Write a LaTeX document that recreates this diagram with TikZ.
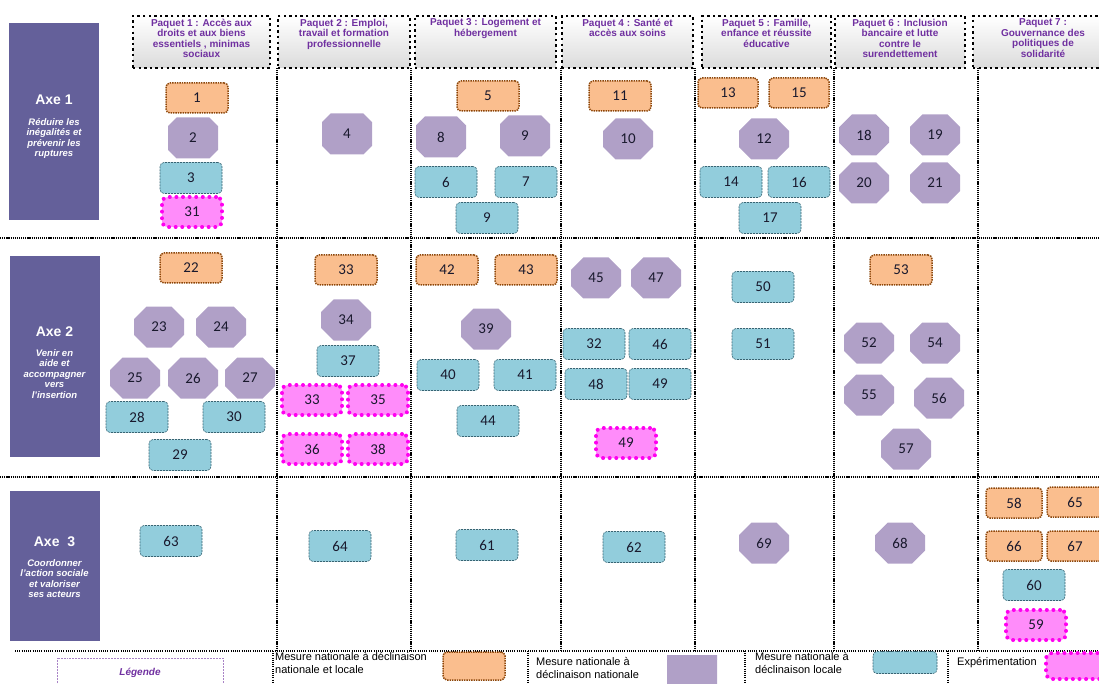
\documentclass[tikz,border=0pt]{standalone}
\usepackage{fontspec}
\setmainfont{Liberation Sans}
\newfontfamily\numfont{Carlito}
\usetikzlibrary{shapes.misc}

\definecolor{axeviolet}{RGB}{100,96,154}
\definecolor{titreviolet}{RGB}{112,48,160}
\definecolor{orangefond}{RGB}{250,190,142}
\definecolor{orangebord}{RGB}{140,70,10}
\definecolor{bleufond}{RGB}{146,205,220}
\definecolor{bleubord}{RGB}{55,100,115}
\definecolor{octfond}{RGB}{176,160,199}
\definecolor{rosefond}{RGB}{255,140,250}
\definecolor{rosebord}{RGB}{255,0,240}
\definecolor{chiffre}{RGB}{25,25,45}

\begin{document}
\begin{tikzpicture}[x=1pt,y=-1pt,font=\numfont\fontsize{15}{17}\selectfont]
  \tikzset{
    natl/.style={draw=orangebord,fill=orangefond,line width=1.5pt,dash pattern=on 1.4pt off 1pt,rounded corners=4pt,minimum width=62pt,minimum height=30pt,inner sep=0pt,text=chiffre},
    loc/.style={draw=bleubord,fill=bleufond,line width=0.6pt,dash pattern=on 2pt off 1pt,rounded corners=4pt,minimum width=62pt,minimum height=31pt,inner sep=0pt,text=chiffre},
    oct/.style={chamfered rectangle,chamfered rectangle xsep=16pt,chamfered rectangle ysep=16pt,fill=octfond,minimum width=50pt,minimum height=41pt,inner sep=0pt,text=chiffre},
    expe/.style={draw=rosebord,fill=rosefond,line width=4pt,dash pattern=on 0pt off 6.6pt,line cap=round,rounded corners=6pt,minimum width=60pt,minimum height=30pt,inner sep=0pt,text=chiffre},
    paquet/.style={draw=black,line width=2.4pt,dash pattern=on 2.4pt off 3.2pt,top color=white,bottom color=black!14,inner sep=0pt,font=\fontsize{10}{10.4}\selectfont\bfseries\color{titreviolet}},
    axe/.style={fill=axeviolet,inner sep=0pt,minimum width=90pt},
    axetitre/.style={inner sep=0pt,text=white,font=\fontsize{14}{16}\selectfont\bfseries},
    axesous/.style={anchor=north,inner sep=0pt,text=white,align=flush center,font=\fontsize{9.5}{10.5}\selectfont\bfseries\itshape},
    sep/.style={line width=1.6pt,dash pattern=on 1.2pt off 0.9pt},
    lsep/.style={line width=1.1pt,dash pattern=on 1pt off 1.2pt},
    leg/.style={anchor=north west,inner sep=0pt,align=left,font=\fontsize{11}{13}\selectfont}
  }
  \useasboundingbox (0,0) rectangle (1099,684);

  % Axes
  \node[axe,minimum height=197pt] (axe1) at (54,121.5) {};
  \node[axetitre] (axe1t) at (54,100) {Axe 1};
  \node[axesous] (axe1s) at (54,118) {Réduire les\\inégalités et\\prévenir les\\ruptures};
  \node[axe,minimum height=201pt] (axe2) at (54.5,356.5) {};
  \node[axetitre] (axe2t) at (54.5,332) {Axe 2};
  \node[axesous] (axe2s) at (54.5,349) {Venir en\\aide et\\accompagner\\vers\\l'insertion};
  \node[axe,minimum height=150pt] (axe3) at (54.5,566) {};
  \node[axetitre] (axe3t) at (54.5,542) {Axe\ \ 3};
  \node[axesous] (axe3s) at (54.5,559) {Coordonner\\l'action sociale\\et valoriser\\ses acteurs};

  % Paquets (en-tetes)
  \node[paquet,minimum width=137pt,minimum height=52pt] (p1) at (201.5,42)
    {\parbox[c][46pt][t]{134pt}{\centering Paquet 1 : Accès aux\\droits et aux biens\\essentiels , minimas\\sociaux}};
  \node[paquet,minimum width=132pt,minimum height=52pt] (p2) at (344,42)
    {\parbox[c][46pt][t]{129pt}{\centering Paquet 2 : Emploi,\\travail et formation\\professionnelle}};
  \node[paquet,minimum width=141pt,minimum height=52pt] (p3) at (485.5,42)
    {\parbox[c][46pt][t]{138pt}{\centering Paquet 3 : Logement et\\hébergement}};
  \node[paquet,minimum width=131pt,minimum height=52pt] (p4) at (627.5,42)
    {\parbox[c][46pt][t]{128pt}{\centering Paquet 4 : Santé et\\accès aux soins}};
  \node[paquet,minimum width=129pt,minimum height=52pt] (p5) at (766.5,42)
    {\parbox[c][46pt][t]{126pt}{\centering Paquet 5 : Famille,\\enfance et réussite\\éducative}};
  \node[paquet,minimum width=130pt,minimum height=52pt] (p6) at (900,42)
    {\parbox[c][46pt][t]{127pt}{\centering Paquet 6 : Inclusion\\bancaire et lutte\\contre le\\surendettement}};
  \node[paquet,minimum width=140pt,minimum height=52pt] (p7) at (1043,42)
    {\parbox[c][46pt][t]{137pt}{\centering Paquet 7 :\\Gouvernance des\\politiques de\\solidarité}};

  % Separateurs
  \foreach \xs in {277,411,561,695,834,978}
    \draw[sep] (\xs,68) -- (\xs,650);
  \draw[sep] (0,238) -- (1099,238);
  \draw[sep] (0,477) -- (1099,477);
  \draw[lsep] (15,651) -- (1099,651);
  \foreach \xs in {273,528,745,948}
    \draw[lsep] (\xs,651) -- (\xs,684);

  % Axe 1
  \node[natl] (n1) at (197,98) {1};
  \node[oct] (n2) at (193,138) {2};
  \node[loc] (n3) at (191,178) {3};
  \node[expe] (n31) at (192,212) {31};
  \node[oct] (n4) at (347,134) {4};
  \node[natl] (n5) at (488,96) {5};
  \node[oct] (n8) at (441,137) {8};
  \node[oct] (n9) at (525,136) {9};
  \node[loc] (n6) at (446,182) {6};
  \node[loc] (n7) at (526,182) {7};
  \node[loc] (n9b) at (487,218) {9};
  \node[natl] (n11) at (620,96) {11};
  \node[oct] (n10) at (628,139) {10};
  \node[natl,minimum width=60pt] (n13) at (728,93) {13};
  \node[natl,minimum width=60pt] (n15) at (799,93) {15};
  \node[oct] (n12) at (764,139) {12};
  \node[loc] (n14) at (731,182) {14};
  \node[loc] (n16) at (799,182) {16};
  \node[loc] (n17) at (770,218) {17};
  \node[oct] (n18) at (864,135) {18};
  \node[oct] (n19) at (935,135) {19};
  \node[oct] (n20) at (864,183) {20};
  \node[oct] (n21) at (935,183) {21};

  % Axe 2
  \node[natl] (n22) at (191,268) {22};
  \node[oct] (n23) at (159,327) {23};
  \node[oct] (n24) at (221,327) {24};
  \node[oct] (n25) at (135,378) {25};
  \node[oct] (n26) at (193,378) {26};
  \node[oct] (n27) at (250,378) {27};
  \node[loc] (n28) at (137,417) {28};
  \node[loc] (n30) at (234,417) {30};
  \node[loc] (n29) at (180,455) {29};
  \node[natl] (n33) at (346,270) {33};
  \node[oct] (n34) at (346,320) {34};
  \node[loc] (n37) at (348,361) {37};
  \node[expe] (n33x) at (312,400) {33};
  \node[expe] (n35) at (378,400) {35};
  \node[expe] (n36) at (312,449) {36};
  \node[expe] (n38) at (378,449) {38};
  \node[natl] (n42) at (447,270) {42};
  \node[natl] (n43) at (526,270) {43};
  \node[oct] (n39) at (486,329) {39};
  \node[loc] (n40) at (448,375) {40};
  \node[loc] (n41) at (525,375) {41};
  \node[loc] (n44) at (488,421) {44};
  \node[oct] (n45) at (596,278) {45};
  \node[oct] (n47) at (656,278) {47};
  \node[loc] (n32) at (594,344) {32};
  \node[loc] (n46) at (660,344) {46};
  \node[loc] (n48) at (596,384) {48};
  \node[loc] (n49) at (660,384) {49};
  \node[expe] (n49x) at (626,443) {49};
  \node[loc] (n50) at (763,287) {50};
  \node[loc] (n51) at (763,344) {51};
  \node[natl] (n53) at (901,270) {53};
  \node[oct] (n52) at (869,343) {52};
  \node[oct] (n54) at (935,343) {54};
  \node[oct] (n55) at (869,395) {55};
  \node[oct] (n56) at (939,398) {56};
  \node[oct] (n57) at (906,449) {57};

  % Axe 3
  \node[loc] (n63) at (171,541) {63};
  \node[loc] (n64) at (340,546) {64};
  \node[loc] (n61) at (487,545) {61};
  \node[loc] (n62) at (634,547) {62};
  \node[oct] (n69) at (764,543) {69};
  \node[oct] (n68) at (900,543) {68};
  \node[natl,minimum width=56pt] (n58) at (1014,503) {58};
  \node[natl,minimum width=56pt] (n65) at (1075,502) {65};
  \node[natl,minimum width=56pt] (n66) at (1014,546) {66};
  \node[natl,minimum width=56pt] (n67) at (1075,546) {67};
  \node[loc] (n60) at (1034,585) {60};
  \node[expe] (n59) at (1036,625) {59};

  % Legende
  \node[draw=titreviolet!60,line width=0.5pt,densely dotted,minimum width=166pt,minimum height=34pt,inner sep=0pt,font=\fontsize{10}{12}\selectfont\bfseries\itshape,text=titreviolet] (legende) at (140,675) {\raisebox{7pt}{Légende}};
  \node[leg] (l1) at (275,652) {Mesure nationale à déclinaison\\nationale et locale};
  \node[natl,minimum width=62pt,minimum height=28pt] (l1s) at (474,666) {};
  \node[leg] (l2) at (536,657) {Mesure nationale à\\déclinaison nationale};
  \node[oct,minimum width=50pt,minimum height=32pt,chamfered rectangle xsep=18pt,chamfered rectangle ysep=18pt] (l2s) at (692,671) {};
  \node[leg] (l3) at (755,652) {Mesure nationale à\\déclinaison locale};
  \node[loc,minimum width=64pt,minimum height=22pt] (l3s) at (905,662.5) {};
  \node[leg,anchor=west] (l4) at (957,663) {Expérimentation};
  \node[expe,minimum width=64pt,minimum height=26pt] (l4s) at (1078,666) {};
\end{tikzpicture}
\end{document}
